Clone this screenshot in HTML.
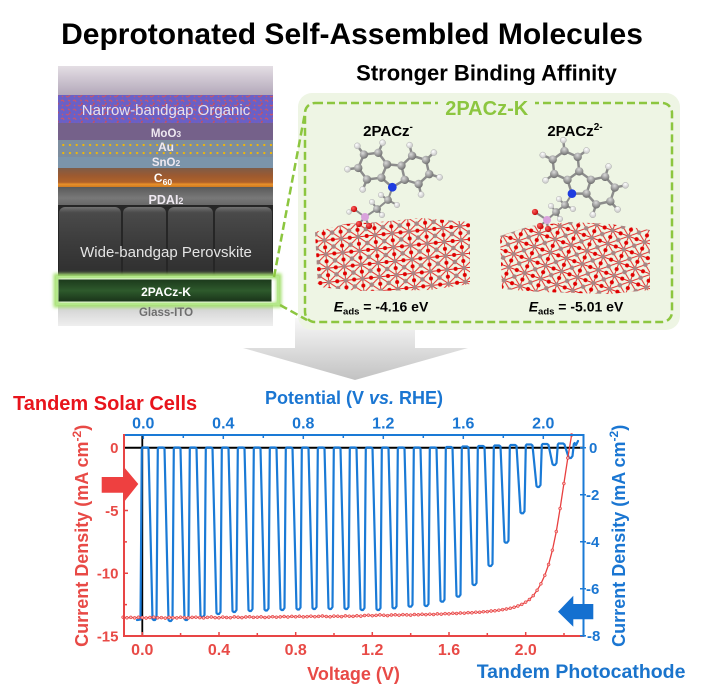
<!DOCTYPE html>
<html><head><meta charset="utf-8"><style>
html,body{margin:0;padding:0;background:#fff;}
svg{display:block;}
text{font-family:"Liberation Sans",Arial,sans-serif;}
</style></head><body>
<svg width="701" height="700" viewBox="0 0 701 700" xmlns="http://www.w3.org/2000/svg">
<defs>
<linearGradient id="gTop" x1="0" y1="0" x2="0" y2="1"><stop offset="0" stop-color="#e4dee4"/><stop offset="1" stop-color="#b3a8ba"/></linearGradient>
<pattern id="org" width="12" height="9" patternUnits="userSpaceOnUse">
<rect width="12" height="9" fill="#6a60c6"/>
<path d="M1 2q2-2 3 1M6 6q2 2 4-1M8 1l2 1M2 7l1-1" stroke="#c4566e" stroke-width="1.3" fill="none"/>
<circle cx="10" cy="4.5" r="1" fill="#b8506a"/>
</pattern>
<pattern id="au" width="6.7" height="8" patternUnits="userSpaceOnUse"><circle cx="3" cy="1" r="1.1" fill="#f5b800"/></pattern>
<linearGradient id="gC60" x1="0" y1="0" x2="0" y2="1"><stop offset="0" stop-color="#7e5c48"/><stop offset="0.4" stop-color="#9c5a30"/><stop offset="0.75" stop-color="#b0622a"/><stop offset="0.85" stop-color="#e8902a"/><stop offset="1" stop-color="#d07a20"/></linearGradient>
<linearGradient id="gPD" x1="0" y1="0" x2="0" y2="1"><stop offset="0" stop-color="#5a5a5a"/><stop offset="0.5" stop-color="#787878"/><stop offset="1" stop-color="#5e5e5e"/></linearGradient>
<linearGradient id="gPk" x1="0" y1="0" x2="0" y2="1"><stop offset="0" stop-color="#727272"/><stop offset="0.08" stop-color="#4a4a4a"/><stop offset="0.5" stop-color="#3c3c3c"/><stop offset="1" stop-color="#2e2e2e"/></linearGradient>
<linearGradient id="gGl" x1="0" y1="0" x2="0" y2="1"><stop offset="0" stop-color="#cfcfcf"/><stop offset="1" stop-color="#efefef"/></linearGradient>
<linearGradient id="gGr" x1="0" y1="0" x2="0" y2="1"><stop offset="0" stop-color="#1c3a1c"/><stop offset="0.5" stop-color="#2e5a2c"/><stop offset="1" stop-color="#1a341a"/></linearGradient>
<linearGradient id="gArr" x1="0" y1="0" x2="0" y2="1"><stop offset="0" stop-color="#f8f8f8"/><stop offset="1" stop-color="#c2c2c2"/></linearGradient>
<radialGradient id="gC" cx="0.35" cy="0.35" r="0.7"><stop offset="0" stop-color="#dadada"/><stop offset="1" stop-color="#6e6e6e"/></radialGradient>
<radialGradient id="gH" cx="0.35" cy="0.35" r="0.7"><stop offset="0" stop-color="#ffffff"/><stop offset="1" stop-color="#c4c4c4"/></radialGradient>
<radialGradient id="gO" cx="0.35" cy="0.35" r="0.7"><stop offset="0" stop-color="#ff6060"/><stop offset="1" stop-color="#c00000"/></radialGradient>
<pattern id="slab" width="17" height="14" patternUnits="userSpaceOnUse" patternTransform="rotate(-6)">
<path d="M0 0L17 14M17 0L0 14M0 7H17M8.5 0V14" stroke="#e42020" stroke-width="0.9"/>
<circle cx="0" cy="0" r="2.3" fill="#a88684"/><circle cx="17" cy="0" r="2.3" fill="#a88684"/><circle cx="0" cy="14" r="2.3" fill="#a88684"/><circle cx="17" cy="14" r="2.3" fill="#a88684"/><circle cx="8.5" cy="7" r="2.3" fill="#a88684"/>
<circle cx="8.5" cy="0" r="2" fill="#e00000"/><circle cx="8.5" cy="14" r="2" fill="#e00000"/><circle cx="0" cy="7" r="2" fill="#e00000"/><circle cx="17" cy="7" r="2" fill="#e00000"/>
</pattern>
<pattern id="slab2" width="17" height="14" patternUnits="userSpaceOnUse" patternTransform="rotate(20)">
<path d="M0 0L17 14M17 0L0 14M0 7H17M8.5 0V14" stroke="#e42020" stroke-width="0.9"/>
<circle cx="0" cy="0" r="2.3" fill="#a88684"/><circle cx="17" cy="0" r="2.3" fill="#a88684"/><circle cx="0" cy="14" r="2.3" fill="#a88684"/><circle cx="17" cy="14" r="2.3" fill="#a88684"/><circle cx="8.5" cy="7" r="2.3" fill="#a88684"/>
<circle cx="8.5" cy="0" r="2" fill="#e00000"/><circle cx="8.5" cy="14" r="2" fill="#e00000"/><circle cx="0" cy="7" r="2" fill="#e00000"/><circle cx="17" cy="7" r="2" fill="#e00000"/>
</pattern>
<filter id="blur" x="-10%" y="-30%" width="120%" height="160%"><feGaussianBlur stdDeviation="1.6"/></filter>
<marker id="mk" viewBox="-2 -2 4 4" markerWidth="4" markerHeight="4" refX="0" refY="0" markerUnits="userSpaceOnUse"><circle r="1.4" fill="#f5b4b4" stroke="#e84040" stroke-width="0.7"/></marker>
<g id="cbz">
<path d="M0 1.333L0.81 0.743L0.5 -0.207L-0.5 -0.207L-0.81 0.743Z M0.81 0.743L1.787 0.951L2.456 0.208L2.147 -0.743L1.169 -0.951L0.5 -0.207 M-0.81 0.743L-1.787 0.951L-2.456 0.208L-2.147 -0.743L-1.169 -0.951L-0.5 -0.207 M1.787 0.951L2.019 1.664M2.456 0.208L3.19 0.364M2.147 -0.743L2.649 -1.3M1.169 -0.951L0.937 -1.664 M-1.787 0.951L-2.019 1.664M-2.456 0.208L-3.19 0.364M-2.147 -0.743L-2.649 -1.3M-1.169 -0.951L-0.937 -1.664" stroke="#8c8c8c" stroke-width="0.17" fill="none" stroke-linejoin="round"/>
<g fill="url(#gH)" stroke="#a8a8a8" stroke-width="0.03">
<circle cx="2.019" cy="1.664" r="0.21"/><circle cx="3.19" cy="0.364" r="0.21"/><circle cx="2.649" cy="-1.3" r="0.21"/><circle cx="0.937" cy="-1.664" r="0.21"/>
<circle cx="-2.019" cy="1.664" r="0.21"/><circle cx="-3.19" cy="0.364" r="0.21"/><circle cx="-2.649" cy="-1.3" r="0.21"/><circle cx="-0.937" cy="-1.664" r="0.21"/>
</g>
<g fill="url(#gC)">
<circle cx="0.81" cy="0.743" r="0.29"/><circle cx="0.5" cy="-0.207" r="0.29"/><circle cx="-0.5" cy="-0.207" r="0.29"/><circle cx="-0.81" cy="0.743" r="0.29"/>
<circle cx="1.787" cy="0.951" r="0.29"/><circle cx="2.456" cy="0.208" r="0.29"/><circle cx="2.147" cy="-0.743" r="0.29"/><circle cx="1.169" cy="-0.951" r="0.29"/>
<circle cx="-1.787" cy="0.951" r="0.29"/><circle cx="-2.456" cy="0.208" r="0.29"/><circle cx="-2.147" cy="-0.743" r="0.29"/><circle cx="-1.169" cy="-0.951" r="0.29"/>
</g>
<circle cx="0" cy="1.333" r="0.3" fill="#1e3ce0"/>
</g>
</defs>

<rect width="701" height="700" fill="#fff"/>

<text x="352" y="44" font-size="30" font-weight="bold" text-anchor="middle" fill="#000">Deprotonated Self-Assembled Molecules</text>

<polygon points="295,318 415,318 415,348 468,348 355,380 243,348 295,348" fill="url(#gArr)"/>

<rect x="58" y="66" width="215" height="29" fill="url(#gTop)"/>
<rect x="58" y="95" width="215" height="28" fill="url(#org)"/>
<rect x="58" y="123" width="215" height="17" fill="#75618a"/>
<rect x="58" y="140" width="215" height="17" fill="#7d8d9e"/>
<rect x="58" y="140" width="215" height="17" fill="url(#au)"/>
<rect x="58" y="157" width="215" height="11" fill="#7b94aa"/>
<rect x="58" y="168" width="215" height="19" fill="url(#gC60)"/>
<rect x="58" y="187" width="215" height="22" fill="url(#gPD)"/>
<rect x="58" y="205" width="215" height="73" fill="#262626"/>
<rect x="59" y="207" width="62" height="71" rx="6" fill="url(#gPk)"/>
<rect x="123" y="207" width="43" height="71" rx="6" fill="url(#gPk)"/>
<rect x="168" y="207" width="45" height="71" rx="6" fill="url(#gPk)"/>
<rect x="215" y="207" width="57" height="71" rx="6" fill="url(#gPk)"/>
<rect x="58" y="305" width="215" height="21" fill="url(#gGl)"/>
<rect x="56" y="276" width="223" height="29" fill="none" stroke="#a6e070" stroke-width="5" filter="url(#blur)"/>
<rect x="57" y="277" width="221" height="27" fill="none" stroke="#b4e88a" stroke-width="2"/>
<rect x="58.5" y="279.5" width="213" height="22" fill="url(#gGr)"/>

<g font-weight="bold" text-anchor="middle" fill="#eee8f0">
<text x="166" y="115" font-size="15" font-weight="normal" fill="#e6e2ee">Narrow-bandgap Organic</text>
<text x="166" y="137" font-size="11.5">MoO<tspan font-size="8.5">3</tspan></text>
<text x="166" y="151" font-size="12">Au</text>
<text x="166" y="166" font-size="11.5">SnO<tspan font-size="8.5">2</tspan></text>
<text x="163" y="182" font-size="12" fill="#fff">C<tspan font-size="8.5" dy="3">60</tspan></text>
<text x="166" y="204" font-size="12.5">PDAI<tspan font-size="9">2</tspan></text>
<text x="166" y="257" font-size="15" font-weight="normal" fill="#e4e4e4">Wide-bandgap Perovskite</text>
<text x="166" y="296" font-size="12" fill="#fff">2PACz-K</text>
<text x="166" y="316" font-size="11.5" fill="#6e6e6e">Glass-ITO</text>
</g>

<rect x="298" y="93" width="382" height="237" rx="14" fill="#eef5e4"/>
<rect x="305" y="103" width="367" height="219" rx="10" fill="none" stroke="#8cc63f" stroke-width="2.5" stroke-dasharray="8 4"/>
<rect x="438" y="95" width="97" height="17" fill="#eef5e4"/>
<text x="486.7" y="115" font-size="20" font-weight="bold" text-anchor="middle" fill="#8cc63f">2PACz-K</text>
<path d="M274 277L305 113M280 305L307 320" stroke="#8cc63f" stroke-width="2.5" stroke-dasharray="8 4" fill="none"/>
<text x="486.5" y="80.5" font-size="22" font-weight="bold" text-anchor="middle" fill="#000">Stronger Binding Affinity</text>

<text x="388" y="136" font-size="15" font-weight="bold" text-anchor="middle" fill="#000">2PACz<tspan font-size="10" dy="-6">-</tspan></text>
<text x="575" y="136" font-size="15" font-weight="bold" text-anchor="middle" fill="#000">2PACz<tspan font-size="10" dy="-6">2-</tspan></text>

<polygon points="315,232 345,224 380,222 420,218 470,222 470,284 430,290 360,291 318,287" fill="url(#slab)"/>
<polygon points="500,236 530,226 570,222 610,224 650,230 650,290 610,294 540,292 502,289" fill="url(#slab2)"/>

<path d="M392.4 187.6L388 200L377 209L365 217M365 217L354 209M365 217L359 224M365 217L369 226M354 209L349 212M388 200L397 205M388 200L381 195M377 209L372 202M377 209L382 215" stroke="#8c8c8c" stroke-width="2" fill="none"/>
<use href="#cbz" transform="translate(394,168) rotate(5) scale(14.5)"/>
<g fill="url(#gH)" stroke="#aaa" stroke-width="0.4"><circle cx="397" cy="205" r="2.8"/><circle cx="381" cy="195" r="2.8"/><circle cx="372" cy="202" r="2.8"/><circle cx="382" cy="215" r="2.8"/><circle cx="349" cy="212" r="2.5"/></g>
<g fill="url(#gC)"><circle cx="388" cy="200" r="3.9"/><circle cx="377" cy="209" r="3.9"/></g>
<circle cx="365" cy="217" r="4" fill="#d9a3dc"/>
<g fill="url(#gO)"><circle cx="354" cy="209" r="3.1"/><circle cx="359" cy="224" r="3.1"/><circle cx="369" cy="226" r="3.1"/></g>

<path d="M572.3 193.4L565 205L556 212L547 220M547 220L535 212M547 220L548 229M547 220L540 226M565 205L573 209M565 205L559 199M556 212L551 206M556 212L560 219" stroke="#8c8c8c" stroke-width="2" fill="none"/>
<use href="#cbz" transform="translate(583.3,178) rotate(36) scale(14.5)"/>
<g fill="url(#gH)" stroke="#aaa" stroke-width="0.4"><circle cx="573" cy="209" r="2.8"/><circle cx="559" cy="199" r="2.8"/><circle cx="551" cy="206" r="2.8"/><circle cx="560" cy="219" r="2.8"/></g>
<g fill="url(#gC)"><circle cx="565" cy="205" r="3.9"/><circle cx="556" cy="212" r="3.9"/></g>
<circle cx="547" cy="220" r="4" fill="#d9a3dc"/>
<g fill="url(#gO)"><circle cx="535" cy="212" r="3.1"/><circle cx="548" cy="229" r="3.1"/><circle cx="540" cy="226" r="3.1"/></g>

<text x="381" y="311.7" font-size="14" font-weight="bold" text-anchor="middle" fill="#000"><tspan font-style="italic">E</tspan><tspan font-size="9.5" dy="3">ads</tspan><tspan dy="-3"> = -4.16 eV</tspan></text>
<text x="576" y="311.7" font-size="14" font-weight="bold" text-anchor="middle" fill="#000"><tspan font-style="italic">E</tspan><tspan font-size="9.5" dy="3">ads</tspan><tspan dy="-3"> = -5.01 eV</tspan></text>

<text x="13" y="410" font-size="20" font-weight="bold" fill="#e8141c">Tandem Solar Cells</text>
<text x="265" y="404" font-size="18" font-weight="bold" fill="#1a76d2">Potential (V <tspan font-style="italic">vs.</tspan> RHE)</text>

<line x1="124" y1="447.7" x2="583" y2="447.7" stroke="#000" stroke-width="2"/>
<line x1="142.3" y1="435" x2="142.3" y2="636" stroke="#000" stroke-width="1.8"/>

<path fill="none" stroke="#1a7ad6" stroke-width="2.2" stroke-linejoin="round" stroke-linecap="round" d="M137,620 L140.5,619.5 L141.8,448.5 L142.6,447.5 L147.8,447.5
L148.5,448.5 L152.5,619 L153.5,620 L155,620 L156.5,618 L157.8,448.5 L158.6,447.5 L163.2,447.5
L164.5,448.5 L168.5,620 L169.5,621 L171,621 L172.5,619 L173.8,448.5 L174.6,447.5 L179.2,447.5
L180.5,448.5 L184.5,619 L185.5,620 L187,620 L188.5,618 L189.8,448.5 L190.6,447.5 L195.2,447.5
L196.5,448.5 L200.5,616 L201.5,617 L203,617 L204.5,615 L205.8,448.5 L206.6,447.5 L211.2,447.5
L212.5,448.5 L216.5,613 L217.5,614 L219,614 L220.5,612 L221.8,448.5 L222.6,447.5 L227.2,447.5
L228.5,448.5 L232.5,611 L233.5,612 L235,612 L236.5,610 L237.8,448.5 L238.6,447.5 L243.2,447.5
L244.5,448.5 L248.5,610 L249.5,611 L251,611 L252.5,609 L253.8,448.5 L254.6,447.5 L259.2,447.5
L260.5,448.5 L264.5,609.5 L265.5,610.5 L267,610.5 L268.5,608.5 L269.8,448.5 L270.6,447.5 L275.2,447.5
L276.5,448.5 L280.5,609 L281.5,610 L283,610 L284.5,608 L285.8,448.5 L286.6,447.5 L291.2,447.5
L292.5,448.5 L296.5,608.5 L297.5,609.5 L299,609.5 L300.5,607.5 L301.8,448.5 L302.6,447.5 L307.2,447.5
L308.5,448.5 L312.5,608 L313.5,609 L315,609 L316.5,607 L317.8,448.5 L318.6,447.5 L323.2,447.5
L324.5,448.5 L328.5,608 L329.5,609 L331,609 L332.5,607 L333.8,448.5 L334.6,447.5 L339.2,447.5
L340.5,448.5 L344.5,608 L345.5,609 L347,609 L348.5,607 L349.8,448.5 L350.6,447.5 L355.2,447.5
L356.5,448.5 L360.5,609 L361.5,610 L363,610 L364.5,608 L365.8,448.5 L366.6,447.5 L371.2,447.5
L372.5,448.5 L376.5,609 L377.5,610 L379,610 L380.5,608 L381.8,448.5 L382.6,447.5 L387.2,447.5
L388.5,448.5 L392.5,607.3 L393.5,608.3 L395,608.3 L396.5,606.3 L397.8,448.5 L398.6,447.5 L403.2,447.5
L404.5,448.5 L408.5,605.7 L409.5,606.7 L411,606.7 L412.5,604.7 L413.8,448.5 L414.6,447.5 L419.2,447.5
L420.5,448.5 L424.5,605 L425.5,606 L427,606 L428.5,604 L429.8,448.5 L430.6,447.5 L435.2,447.5
L436.5,448.5 L440.5,600.7 L441.5,601.7 L443,601.7 L444.5,599.7 L445.8,448 L446.6,447 L451.2,447
L452.5,448 L456.5,595.7 L457.5,596.7 L459,596.7 L460.5,594.7 L461.8,447.5 L462.6,446.5 L467.2,446.5
L468.5,447.5 L472.5,584 L473.5,585 L475,585 L476.5,583 L477.8,447 L478.6,446 L483.2,446
L484.5,447 L488.5,565 L489.5,566 L491,566 L492.5,564 L493.8,446.5 L494.6,445.5 L499.2,445.5
L500.5,446.5 L504.5,541.7 L505.5,542.7 L507,542.7 L508.5,540.7 L509.8,446 L510.6,445 L515.2,445
L516.5,446 L520.5,512.3 L521.5,513.3 L523,513.3 L524.5,511.3 L525.8,445.5 L526.6,444.5 L531.2,444.5
L532.5,445.5 L536.5,486 L537.5,487 L539,487 L540.5,485 L541.8,445 L542.6,444 L547.2,444
L548.5,445 L552.5,464 L553.5,465 L555,465 L556.5,463 L557.8,444.5 L558.6,443.5 L563.2,443.5
L564.5,444.5 L568.5,457 L569.5,458 L571,458 L572.5,456 L573.8,444 L574.6,443 L576,445 L578,441"/>

<polyline fill="none" stroke="#e84040" stroke-width="1.3" marker-start="url(#mk)" marker-mid="url(#mk)" marker-end="url(#mk)" points="123.1,617.2 126.9,617.8 130.8,617.4 134.6,617.9 138.4,617.3 142.3,617.6 146.1,618.0 149.9,617.5 153.8,617.2 157.6,617.8 161.4,617.6 165.3,618.1 169.1,617.4 172.9,617.7 176.8,617.9 180.6,617.3 184.4,617.6 188.3,617.9 192.1,617.4 195.9,617.2 199.8,617.6 203.6,617.9 207.4,617.4 211.3,617.0 215.1,617.6 218.9,617.8 222.8,617.1 226.6,617.5 230.4,617.7 234.3,616.9 238.1,617.3 241.9,617.6 245.8,617.0 249.6,616.8 253.4,617.4 257.3,617.2 261.1,616.9 264.9,617.5 268.8,617.1 272.6,616.7 276.4,617.2 280.3,616.9 284.1,616.5 287.9,617.0 291.8,616.4 295.6,616.8 299.4,616.3 303.3,616.9 307.1,616.6 310.9,616.2 314.8,616.7 318.6,616.4 322.4,616.0 326.3,616.5 330.1,616.8 333.9,616.1 337.8,616.3 341.6,616.6 345.4,615.9 349.3,616.2 353.1,616.4 356.9,615.8 360.8,616.1 364.6,615.5 368.4,615.2 372.3,615.7 376.1,615.4 379.9,614.9 383.8,615.3 387.6,615.6 391.4,615.0 395.3,614.8 399.1,615.2 402.9,614.6 406.8,614.9 410.6,615.1 414.4,614.5 418.3,614.8 422.1,614.3 425.9,614.6 429.8,614.2 433.6,614.5 437.4,613.9 441.3,614.2 445.1,613.6 448.9,613.9 452.8,613.3 456.6,613.5 460.4,613.0 464.3,613.2 468.1,612.6 471.9,612.8 475.8,612.2 479.6,612.3 483.4,611.7 487.3,611.6 491.1,611.0 494.9,610.8 498.8,610.2 502.6,609.6 506.4,609.0 510.3,608.3 514.1,607.3 517.9,606.0 521.8,604.4 525.6,602.2 529.4,599.5 533.3,595.6 537.1,590.3 540.9,583.8 544.8,575.3 548.6,564.5 552.4,550.2 556.3,531.5 560.1,508.5 563.9,483.5 567.8,458.0 571.6,435.0"/>

<line x1="123" y1="435" x2="584.5" y2="435" stroke="#1a7ad6" stroke-width="2"/>
<line x1="583.5" y1="434" x2="583.5" y2="637" stroke="#1a7ad6" stroke-width="2"/>
<line x1="124" y1="434" x2="124" y2="637" stroke="#e84545" stroke-width="2"/>
<line x1="123" y1="636" x2="583" y2="636" stroke="#e84545" stroke-width="2"/>

<path d="M142.3 636v-4M219 636v-4M295.7 636v-4M372.3 636v-4M449 636v-4M525.7 636v-4M180.6 636v-3M257.3 636v-3M334 636v-3M410.7 636v-3M487.3 636v-3M564 636v-3" stroke="#e84545" stroke-width="1.5"/>
<path d="M124 510.5h4M124 573.2h4M124 479h3M124 541.9h3M124 604.6h3" stroke="#e84545" stroke-width="1.5"/>
<path d="M143.3 435v4M223.3 435v4M303.3 435v4M383.3 435v4M463.3 435v4M543.3 435v4M183.3 435v3M263.3 435v3M343.3 435v3M423.3 435v3M503.3 435v3" stroke="#1a7ad6" stroke-width="1.5"/>
<path d="M580 447.7h6M580 494.7h6M580 541.7h6M580 588.7h6M580 635.7h6" stroke="#1a7ad6" stroke-width="1.5"/>

<g font-size="15" font-weight="bold" fill="#e84a46" text-anchor="end">
<text x="118.5" y="453">0</text><text x="118.5" y="515.8">-5</text><text x="118.5" y="578.5">-10</text><text x="118.5" y="641.3">-15</text>
</g>
<g font-size="16" font-weight="bold" fill="#e84a46" text-anchor="middle">
<text x="142.3" y="655">0.0</text><text x="219" y="655">0.4</text><text x="295.7" y="655">0.8</text><text x="372.3" y="655">1.2</text><text x="449" y="655">1.6</text><text x="525.7" y="655">2.0</text>
</g>
<g font-size="16" font-weight="bold" fill="#1a76d2" text-anchor="middle">
<text x="143.3" y="428.5">0.0</text><text x="223.3" y="428.5">0.4</text><text x="303.3" y="428.5">0.8</text><text x="383.3" y="428.5">1.2</text><text x="463.3" y="428.5">1.6</text><text x="543.3" y="428.5">2.0</text>
</g>
<g font-size="15" font-weight="bold" fill="#1a76d2" text-anchor="start">
<text x="589" y="453">0</text><text x="586" y="500">-2</text><text x="586" y="547">-4</text><text x="586" y="594">-6</text><text x="587" y="641">-8</text>
</g>

<text transform="translate(88,535.8) rotate(-90)" text-anchor="middle" font-size="18" font-weight="bold" fill="#e84a46">Current Density (mA cm<tspan dy="-7" font-size="12">-2</tspan><tspan dy="7">)</tspan></text>
<text transform="translate(625,535.8) rotate(-90)" text-anchor="middle" font-size="18" font-weight="bold" fill="#1a76d2">Current Density (mA cm<tspan dy="-7" font-size="12">-2</tspan><tspan dy="7">)</tspan></text>
<text x="353.5" y="680" font-size="18" font-weight="bold" text-anchor="middle" fill="#e84a46">Voltage (V)</text>
<text x="476.7" y="678" font-size="19.5" font-weight="bold" fill="#1a74cc">Tandem Photocathode</text>

<polygon points="101.7,477 125,477 125,468.3 138.3,484 125,500.7 125,492.7 101.7,492.7" fill="#ee4040"/>
<polygon points="593.3,604 573.3,604 573.3,595.7 558,611.7 573.3,626.7 573.3,619.3 593.3,619.3" fill="#1470d0"/>
</svg>
</body></html>
